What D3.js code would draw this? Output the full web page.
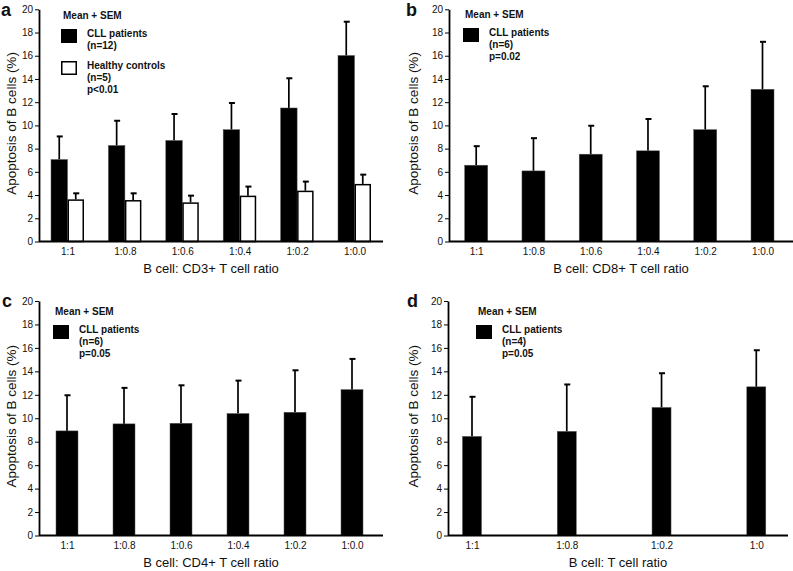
<!DOCTYPE html>
<html>
<head>
<meta charset="utf-8">
<script src="https://cdn.jsdelivr.net/npm/d3@7"></script>
<style>
  html, body { margin: 0; padding: 0; background: #fff; }
  svg { display: block; }
  text { font-family: Arial, "Liberation Sans", Helvetica, sans-serif; fill: #111; }
</style>
</head>
<body>
<svg id="chart" width="793" height="571"></svg>
<script>
// ---------- data ----------
const yTicks = [0, 2, 4, 6, 8, 10, 12, 14, 16, 18, 20];

const ratiosA = ["1:1", "1:0.8", "1:0.6", "1:0.4", "1:0.2", "1:0.0"];
const cllMeanA = [7.06, 8.27, 8.7, 9.63, 11.5, 16.02];
const cllSemA = [1.99, 2.13, 2.28, 2.3, 2.56, 2.91];
const healthyMeanA = [3.63, 3.57, 3.37, 3.95, 4.38, 4.96];
const healthySemA = [0.52, 0.58, 0.58, 0.78, 0.78, 0.8];

const ratiosB = ["1:1", "1:0.8", "1:0.6", "1:0.4", "1:0.2", "1:0.0"];
const cllMeanB = [6.57, 6.08, 7.52, 7.81, 9.63, 13.11];
const cllSemB = [1.64, 2.82, 2.45, 2.74, 3.74, 4.09];

const ratiosC = ["1:1", "1:0.8", "1:0.6", "1:0.4", "1:0.2", "1:0.0"];
const cllMeanC = [8.92, 9.52, 9.57, 10.4, 10.51, 12.44];
const cllSemC = [3.04, 3.07, 3.24, 2.81, 3.58, 2.62];

const ratiosD = ["1:1", "1:0.8", "1:0.2", "1:0"];
const cllMeanD = [8.45, 8.88, 10.92, 12.68];
const cllSemD = [3.38, 4.0, 2.92, 3.12];

const yLabel = "Apoptosis of B cells (%)";
const xTitles = ["B cell: CD3+ T cell ratio", "B cell: CD8+ T cell ratio",
                 "B cell: CD4+ T cell ratio", "B cell: T cell ratio"];
const legendA = [["CLL patients", "(n=12)"], ["Healthy controls", "(n=5)", "p<0.01"]];
const legendB = [["CLL patients", "(n=6)", "p=0.02"]];
const legendC = [["CLL patients", "(n=6)", "p=0.05"]];
const legendD = [["CLL patients", "(n=4)", "p=0.05"]];

// ---------- drawing ----------
const svg = d3.select("#chart");

function drawPanel(p) {
  const g = svg.append("g");
  const y = d3.scaleLinear().domain([0, 20]).range([p.y0, p.y20]);
  const x = d3.scalePoint().domain(p.cats).range([p.ax + p.first, p.ax + p.last]);

  // series
  p.series.forEach((s, si) => {
    const off = p.series.length === 2 ? (si === 0 ? -p.bw : 0) : -p.bw / 2;
    const rows = p.cats.map((c, i) => ({ c, m: s.mean[i], e: s.sem[i] }));
    // error bars
    rows.forEach(r => {
      const cx = x(r.c) + off + p.bw / 2;
      g.append("line").attr("x1", cx).attr("x2", cx)
        .attr("y1", y(r.m)).attr("y2", y(r.m + r.e))
        .attr("stroke", "#000").attr("stroke-width", 1.7);
      g.append("line").attr("x1", cx - 2.5).attr("x2", cx + 3.5)
        .attr("y1", y(r.m + r.e)).attr("y2", y(r.m + r.e))
        .attr("stroke", "#000").attr("stroke-width", 2);
    });
    rows.forEach(r => {
      const filled = s.fill === "black";
      g.append("rect")
        .attr("x", x(r.c) + off + (filled ? 0 : 0.75))
        .attr("y", y(r.m) + (filled ? 0 : 0.75))
        .attr("width", p.bw - (filled ? 0 : 1.5))
        .attr("height", y(0) - y(r.m) - (filled ? 0 : 0.75))
        .attr("fill", filled ? "#000" : "#fff")
        .attr("stroke", filled ? "#555" : "#000")
        .attr("stroke-width", filled ? 0.5 : 1.5);
    });
  });

  // y axis
  const yAxis = d3.axisLeft(y).tickValues(yTicks).tickSize(4).tickPadding(2).tickSizeOuter(0);
  const ya = g.append("g").attr("transform", `translate(${p.ax},0)`).call(yAxis);
  ya.select(".domain").attr("stroke", "#000").attr("stroke-width", 1.8);
  ya.selectAll(".tick line").attr("stroke", "#000").attr("stroke-width", 1);
  ya.selectAll(".tick text").attr("font-size", 10).attr("fill", "#222")
    .style("font-family", "Arial, 'Liberation Sans', sans-serif");

  // x axis
  const xa = g.append("g").attr("transform", `translate(0,${p.y0})`);
  xa.append("line").attr("x1", p.ax).attr("x2", p.axEnd).attr("y1", 0).attr("y2", 0)
    .attr("stroke", "#000").attr("stroke-width", 1.8);
  const xAxis = d3.axisBottom(x).tickSize(0).tickPadding(6);
  const xg = g.append("g").attr("transform", `translate(0,${p.y0})`).call(xAxis);
  xg.select(".domain").remove();
  xg.selectAll(".tick text").attr("font-size", 10).attr("fill", "#222")
    .style("font-family", "Arial, 'Liberation Sans', sans-serif");

  // axis titles
  g.append("text").attr("x", (p.ax + p.axEnd) / 2).attr("y", p.y0 + 31)
    .attr("text-anchor", "middle").attr("font-size", 13).text(p.xTitle);
  g.append("text")
    .attr("transform", `translate(${p.ylx},${(p.y0 + p.y20) / 2 - 2}) rotate(-90)`)
    .attr("text-anchor", "middle").attr("font-size", 13.5).text(yLabel);

  // panel letter
  g.append("text").attr("x", p.lx).attr("y", p.ly)
    .attr("font-size", 18).attr("font-weight", "bold").text(p.letter);

  // legend
  g.append("text").attr("x", p.lgx + 2).attr("y", p.lgy)
    .attr("font-size", 10).attr("font-weight", "bold").text("Mean + SEM");
  p.legend.forEach((lines, li) => {
    const top = p.lgy + 10 + li * p.lgGap;
    g.append("rect").attr("x", p.lgx + 0.75).attr("y", top + 0.75)
      .attr("width", 14.5).attr("height", 12.5)
      .attr("fill", li === 0 ? "#000" : "#fff")
      .attr("stroke", "#000").attr("stroke-width", 1.5);
    lines.forEach((t, k) => {
      g.append("text").attr("x", p.lgx + 26).attr("y", top + 7.5 + k * 12)
        .attr("font-size", 10).attr("font-weight", "bold").text(t);
    });
  });
}

drawPanel({
  letter: "a", lx: 1, ly: 16, cats: ratiosA, ax: 39, axEnd: 383, first: 28.5, last: 315.5,
  y0: 241.5, y20: 9.3, bw: 16.5, xTitle: xTitles[0], ylx: 15.5,
  series: [{ mean: cllMeanA, sem: cllSemA, fill: "black" },
           { mean: healthyMeanA, sem: healthySemA, fill: "white" }],
  legend: legendA, lgx: 61, lgy: 19, lgGap: 32
});
drawPanel({
  letter: "b", lx: 406, ly: 16, cats: ratiosB, ax: 449, axEnd: 793, first: 27.2, last: 313.5,
  y0: 241.5, y20: 9.3, bw: 23, xTitle: xTitles[1], ylx: 418,
  series: [{ mean: cllMeanB, sem: cllSemB, fill: "black" }],
  legend: legendB, lgx: 463, lgy: 18, lgGap: 32
});
drawPanel({
  letter: "c", lx: 2, ly: 307, cats: ratiosC, ax: 39, axEnd: 383, first: 28, last: 313,
  y0: 535.5, y20: 301, bw: 22, xTitle: xTitles[2], ylx: 15.5,
  series: [{ mean: cllMeanC, sem: cllSemC, fill: "black" }],
  legend: legendC, lgx: 53, lgy: 315, lgGap: 32
});
drawPanel({
  letter: "d", lx: 407, ly: 307, cats: ratiosD, ax: 448, axEnd: 788, first: 24, last: 308.3,
  y0: 535.5, y20: 301, bw: 19, xTitle: xTitles[3], ylx: 418,
  series: [{ mean: cllMeanD, sem: cllSemD, fill: "black" }],
  legend: legendD, lgx: 476, lgy: 315, lgGap: 32
});
</script>
</body>
</html>
